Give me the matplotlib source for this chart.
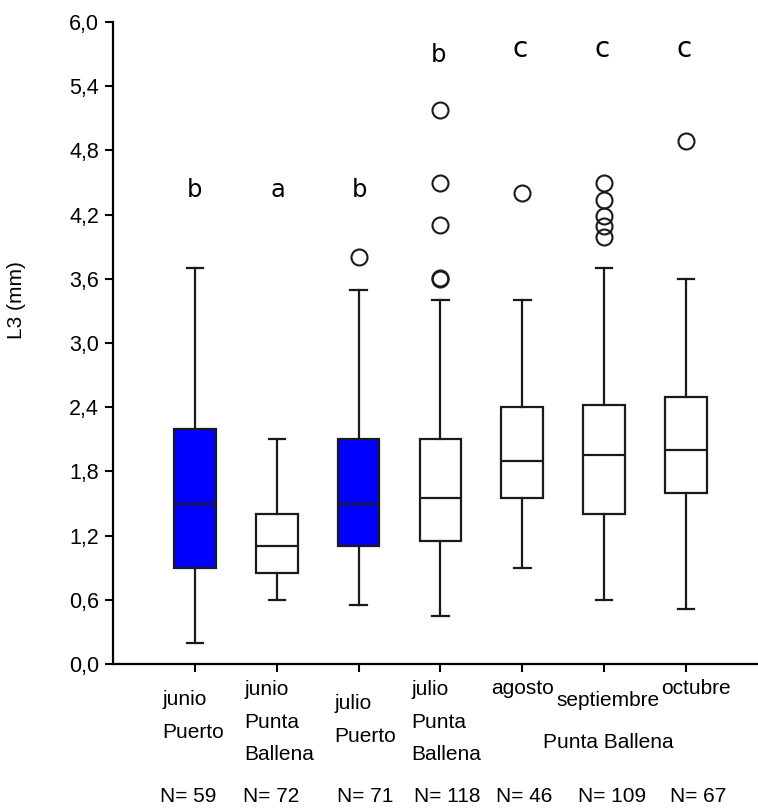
import numpy as np
import matplotlib
matplotlib.use("Agg")
import matplotlib.pyplot as plt

# Datos (L3 en mm)
grupos = ["junio\nPuerto", "junio\nPunta\nBallena", "julio\nPuerto", "julio\nPunta\nBallena",
          "agosto", "septiembre", "octubre"]
n_muestras = [59, 72, 71, 118, 46, 109, 67]
bigote_inf = [0.20, 0.60, 0.55, 0.45, 0.90, 0.60, 0.51]
q1 = [0.90, 0.85, 1.10, 1.15, 1.55, 1.40, 1.60]
mediana = [1.50, 1.10, 1.50, 1.55, 1.90, 1.95, 2.00]
q3 = [2.20, 1.40, 2.10, 2.10, 2.40, 2.42, 2.50]
bigote_sup = [3.70, 2.10, 3.50, 3.40, 3.40, 3.70, 3.60]
atipicos = [[], [], [3.80], [5.18, 4.50, 4.10, 3.60, 3.61], [4.40],
            [4.50, 4.34, 4.19, 4.09, 3.99], [4.89]]
letras = ["b", "a", "b", "b", "c", "c", "c"]
relleno = ["blue", "white", "blue", "white", "white", "white", "white"]

plt.rcParams['font.family'] = ['Liberation Sans', 'DejaVu Sans']

fig = plt.figure(figsize=(7.58, 8.08), dpi=100)
ax = fig.add_axes([113 / 758, 144 / 808, 1 - 113 / 758, 642 / 808])

pos = np.arange(1, len(grupos) + 1)
stats = []
for i in range(len(grupos)):
    stats.append(dict(whislo=bigote_inf[i], q1=q1[i], med=mediana[i], q3=q3[i],
                      whishi=bigote_sup[i], fliers=atipicos[i]))

bp = ax.bxp(stats, positions=pos, widths=0.51, patch_artist=True,
            boxprops=dict(linewidth=1.6, edgecolor="#1a1a1a"),
            medianprops=dict(color="#1a1a1a", linewidth=1.6),
            whiskerprops=dict(color="#1a1a1a", linewidth=1.6),
            capprops=dict(color="#1a1a1a", linewidth=1.6),
            capwidths=0.2,
            flierprops=dict(marker="o", markersize=11.5, markerfacecolor="none",
                            markeredgecolor="#1a1a1a", markeredgewidth=1.5))
for caja, c in zip(bp["boxes"], relleno):
    caja.set_facecolor(c)

# letras de significancia
letra_y = [4.36, 4.36, 4.36, 5.63, 5.67, 5.67, 5.67]
letra_dx = [0, 0.02, 0.01, -0.03, -0.03, -0.02, -0.03]
for i, l in enumerate(letras):
    tam = 17.5 if l != "c" else 20
    ax.text(pos[i] + letra_dx[i], letra_y[i], l, ha="center", va="baseline",
            fontsize=tam, family="DejaVu Sans", color="black")

ax.set_xlim(0, (758 - 112) / 82)
ax.set_ylim(0, 6)
ax.set_yticks(np.arange(0, 6.01, 0.6))
ax.set_yticklabels([f"{v:.1f}".replace(".", ",") for v in np.arange(0, 6.01, 0.6)])
ax.set_xticks(pos)
ax.set_xticklabels([])
ax.tick_params(axis="both", direction="out", length=6, width=1.5, labelsize=15.5, pad=4)
ax.spines["top"].set_visible(False)
ax.spines["right"].set_visible(False)
ax.spines["left"].set_linewidth(1.6)
ax.spines["bottom"].set_linewidth(1.6)

# etiquetas de categorias (posicion en px de la figura)
def px(x, y):
    return x / 758, 1 - y / 808

etiq_xy = [(193, 716), (279, 722), (365, 720), (446, 722), (522, 688), (608, 700), (696, 688)]
for texto, (x, y) in zip(grupos, etiq_xy):
    fig.text(*px(x, y), texto, ha="center", va="center", multialignment="left",
             fontsize=15, linespacing=1.9)
fig.text(*px(608, 743), "Punta Ballena", ha="center", va="center", fontsize=15)

n_x = [188, 271, 365, 447, 524, 612, 698]
for n, x in zip(n_muestras, n_x):
    fig.text(*px(x, 797), f"N= {n}", ha="center", va="center", fontsize=15)

fig.text(*px(17, 300), "L3 (mm)", rotation=90, ha="center", va="center", fontsize=15)

fig.savefig("out.png", dpi=100)
